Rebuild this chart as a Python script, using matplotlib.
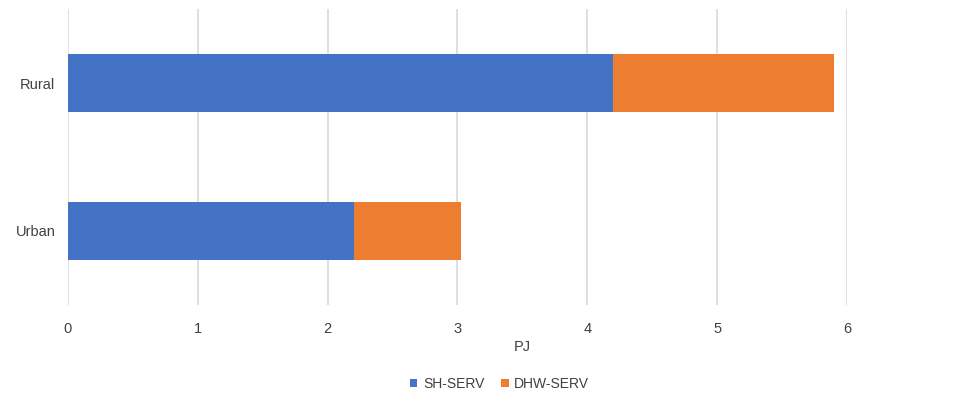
import matplotlib.pyplot as plt
import numpy as np

plt.rcParams['font.family'] = ['Liberation Sans', 'DejaVu Sans']

categories = ['Urban', 'Rural']
sh_serv = [2.20, 4.20]
dhw_serv = [0.83, 1.70]

fig = plt.figure(figsize=(9.7, 3.94), dpi=100)
ax = fig.add_axes([0.0701, 0.226, 0.803, 0.751])

y = np.arange(len(categories))
ax.barh(y, sh_serv, height=0.39, color='#4472C4', label='SH-SERV', zorder=3)
ax.barh(y, dhw_serv, left=sh_serv, height=0.39, color='#ED7D31', label='DHW-SERV', zorder=3)

ax.set_xlim(0, 6)
ax.set_ylim(-0.5, 1.5)
ax.set_yticks(y)
ax.set_yticklabels(categories)
ax.set_xticks(range(7))
ax.grid(axis='x', color='#d9d9d9', linewidth=1.2, zorder=0)
for s in ax.spines.values():
    s.set_visible(False)
ax.tick_params(axis='both', length=0, labelsize=10.5, colors='#404040')
ax.tick_params(axis='x', pad=12)
ax.tick_params(axis='y', pad=9)
ax.set_xlabel('PJ', fontsize=10.5, color='#404040')
ax.xaxis.set_label_coords(0.583, -0.12)

fig.legend(loc='center', bbox_to_anchor=(0.515, 0.025), ncol=2, frameon=False,
           fontsize=10, handlelength=0.55, handleheight=0.55, handletextpad=0.4,
           columnspacing=1.2, labelcolor='#404040')

fig.savefig('out.png', dpi=100)
